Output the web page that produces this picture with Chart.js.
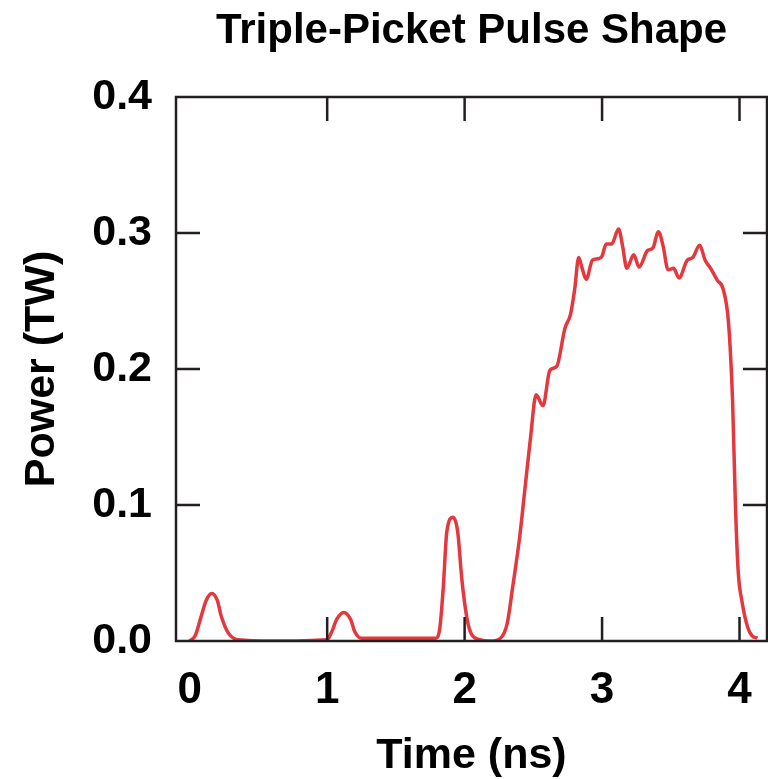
<!DOCTYPE html>
<html lang="en">
<head>
    <meta charset="UTF-8">
    <title>Triple-Picket Pulse Shape</title>
    <script src="https://cdn.jsdelivr.net/npm/chart.js"></script>
    <style>
        body, html {
            margin: 0;
            padding: 0;
            background: #fff;
        }
        #wrap {
            width: 768px;
            height: 779px;
        }
    </style>
</head>
<body>
    <div id="wrap"><canvas id="pulseChart"></canvas></div>

    <script>
        // Pulse shape: time (ns) and power (TW)
        const timeNs = [
            0.00, 0.04, 0.08, 0.12, 0.16, 0.20, 0.23, 0.28, 0.35, 0.60, 1.00,
            1.03, 1.07, 1.12, 1.17, 1.20, 1.25, 1.79,
            1.82, 1.845, 1.87, 1.915, 1.95, 1.98, 2.02, 2.05, 2.11, 2.19, 2.26,
            2.31, 2.35, 2.40, 2.44, 2.48, 2.52, 2.57, 2.62, 2.67, 2.73, 2.77,
            2.80, 2.83, 2.855, 2.885, 2.93, 2.97, 3.00, 3.03, 3.07, 3.12, 3.15,
            3.18, 3.23, 3.27, 3.33, 3.37, 3.41, 3.445, 3.48, 3.52, 3.56, 3.62,
            3.66, 3.71, 3.75, 3.79, 3.84, 3.88, 3.92, 3.95, 3.97, 3.99, 4.02,
            4.06, 4.09, 4.13
        ];
        const powerTW = [
            0.000, 0.004, 0.017, 0.030, 0.035, 0.030, 0.018, 0.006, 0.001, 0.000, 0.001,
            0.006, 0.016, 0.021, 0.016, 0.007, 0.002, 0.002,
            0.010, 0.040, 0.080, 0.091, 0.080, 0.045, 0.015, 0.005, 0.001, 0.000, 0.002,
            0.013, 0.040, 0.076, 0.113, 0.150, 0.181, 0.173, 0.199, 0.202, 0.230, 0.240,
            0.258, 0.282, 0.274, 0.266, 0.280, 0.281, 0.283, 0.292, 0.292, 0.303, 0.290,
            0.274, 0.284, 0.275, 0.287, 0.289, 0.301, 0.290, 0.273, 0.274, 0.267, 0.280,
            0.282, 0.291, 0.280, 0.274, 0.265, 0.259, 0.234, 0.175, 0.101, 0.052, 0.028,
            0.010, 0.004, 0.002
        ];
        const xTicks = [0, 1, 2, 3, 4];
        const yTicks = [0.0, 0.1, 0.2, 0.3, 0.4];

        const frameColor = '#231f20';
        const fontFamily = '"Liberation Sans", Arial, sans-serif';

        // box around the plot with short inward tick marks on all four sides
        const framePlugin = {
            id: 'frame',
            afterDatasetsDraw(chart) {
                const { ctx, chartArea: a, scales } = chart;
                const len = 24;
                ctx.save();
                ctx.strokeStyle = frameColor;
                ctx.lineWidth = 2.5;
                ctx.strokeRect(a.left, a.top, a.right - a.left, a.bottom - a.top);
                ctx.beginPath();
                xTicks.forEach(v => {
                    const px = scales.x.getPixelForValue(v);
                    if (px <= a.left + 20) return;
                    ctx.moveTo(px, a.bottom);
                    ctx.lineTo(px, a.bottom - len);
                    ctx.moveTo(px, a.top);
                    ctx.lineTo(px, a.top + len);
                });
                yTicks.forEach(v => {
                    const py = scales.y.getPixelForValue(v);
                    if (py >= a.bottom - 2 || py <= a.top + 2) return;
                    ctx.moveTo(a.left, py);
                    ctx.lineTo(a.left + len, py);
                    ctx.moveTo(a.right, py);
                    ctx.lineTo(a.right - len, py);
                });
                ctx.stroke();
                ctx.restore();
            }
        };

        const ctx = document.getElementById('pulseChart').getContext('2d');
        new Chart(ctx, {
            type: 'line',
            data: {
                datasets: [{
                    data: timeNs.map((t, i) => ({ x: t, y: powerTW[i] })),
                    borderColor: '#e2383e',
                    borderWidth: 3.5,
                    pointRadius: 0,
                    cubicInterpolationMode: 'monotone',
                    fill: false
                }]
            },
            options: {
                responsive: true,
                maintainAspectRatio: false,
                animation: false,
                layout: { padding: { top: 0, right: 1, bottom: 0, left: 0 } },
                plugins: {
                    legend: { display: false },
                    tooltip: { enabled: false },
                    title: {
                        display: true,
                        text: 'Triple-Picket Pulse Shape',
                        fullSize: false,
                        color: '#000',
                        font: { family: fontFamily, size: 42, weight: 'bold', lineHeight: 1.2 },
                        padding: { top: 6, bottom: 40.6 }
                    }
                },
                scales: {
                    x: {
                        type: 'linear',
                        min: -0.1,
                        max: 4.2,
                        afterBuildTicks: s => { s.ticks = xTicks.map(v => ({ value: v })); },
                        afterFit: s => {
                            s.height = 138;
                            s.paddingLeft = 0;
                            s.paddingRight = 0;
                        },
                        grid: { display: false, drawTicks: false },
                        border: { display: false },
                        ticks: {
                            color: '#000',
                            padding: 23,
                            maxRotation: 0,
                            font: { family: fontFamily, size: 44, weight: 'bold' },
                            callback: v => String(v)
                        },
                        title: {
                            display: true,
                            text: 'Time (ns)',
                            color: '#000',
                            font: { family: fontFamily, size: 43, weight: 'bold', lineHeight: 1 },
                            padding: { top: 0, bottom: 1.5 }
                        }
                    },
                    y: {
                        min: 0,
                        max: 0.4,
                        afterBuildTicks: s => { s.ticks = yTicks.map(v => ({ value: v })); },
                        afterFit: s => {
                            s.width = 176;
                            s.paddingTop = 0;
                            s.paddingBottom = 0;
                        },
                        grid: { display: false, drawTicks: false },
                        border: { display: false },
                        ticks: {
                            color: '#000',
                            padding: 24,
                            font: { family: fontFamily, size: 43, weight: 'bold' },
                            callback: v => v.toFixed(1)
                        },
                        title: {
                            display: true,
                            text: 'Power (TW)',
                            color: '#000',
                            font: { family: fontFamily, size: 43, weight: 'bold', lineHeight: 1 },
                            padding: { top: 20.5, bottom: 0 }
                        }
                    }
                }
            },
            plugins: [framePlugin]
        });
    </script>
</body>
</html>
